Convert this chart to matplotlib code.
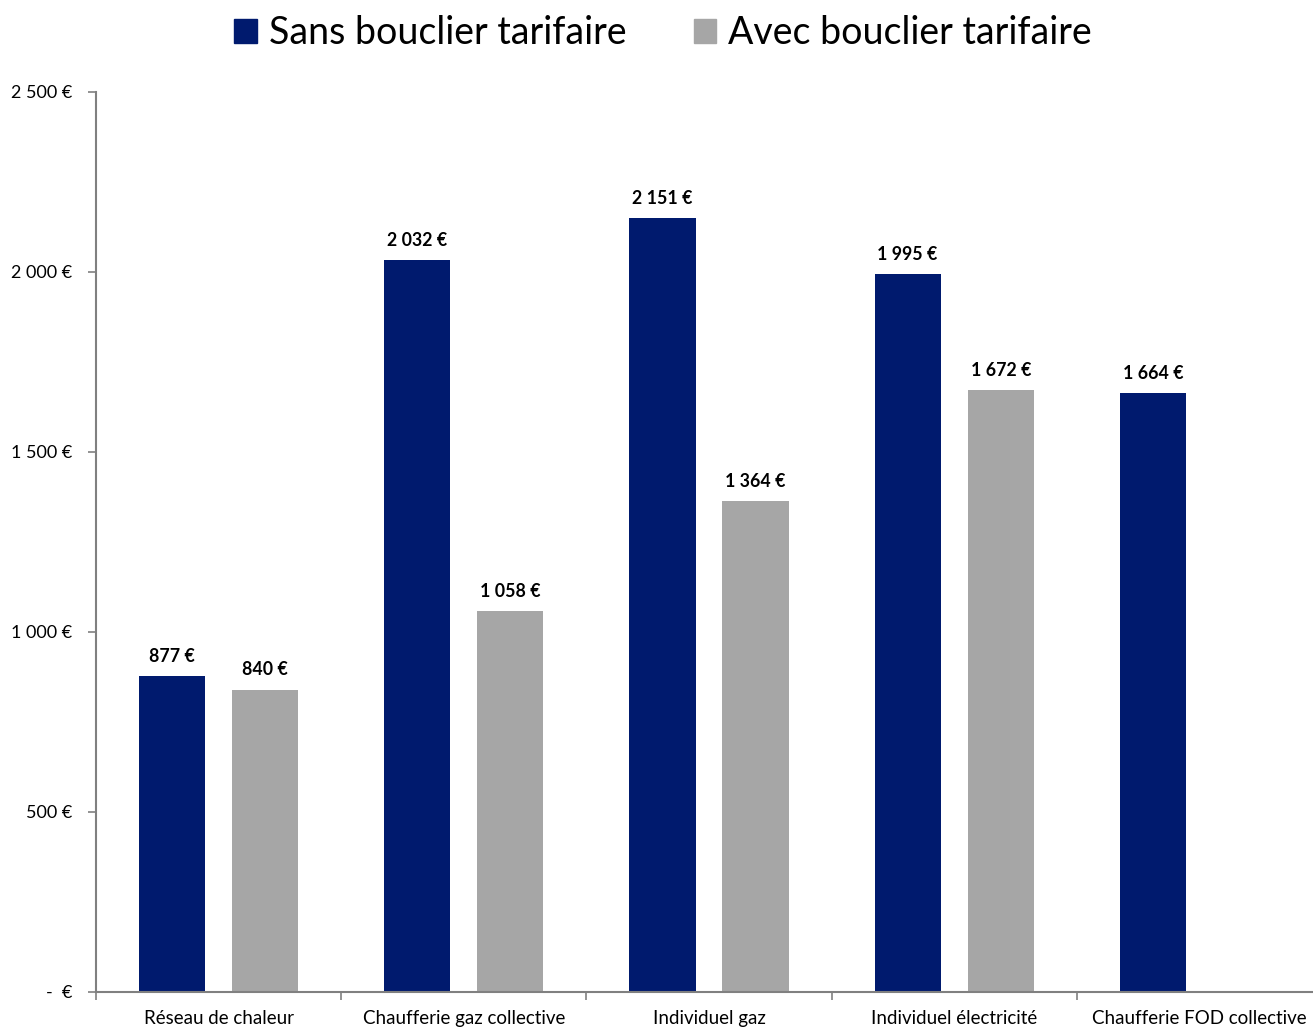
import matplotlib
matplotlib.use("Agg")
import matplotlib.pyplot as plt
from matplotlib.patches import Patch
import numpy as np

categories = ["Réseau de chaleur", "Chaufferie gaz collective", "Individuel gaz",
              "Individuel électricité", "Chaufferie FOD collective"]
sans_bouclier = [877, 2032, 2151, 1995, 1664]
avec_bouclier = [840, 1058, 1364, 1672, None]
series_names = ["Sans bouclier tarifaire", "Avec bouclier tarifaire"]
yticks = [0, 500, 1000, 1500, 2000, 2500]

BLUE = "#001A6E"
GREY = "#A6A6A6"

plt.rcParams['font.family'] = ['Lato', 'DejaVu Sans']

def eur(v):
    if v == 0:
        return "-  €"
    s = f"{int(round(v)):,}".replace(",", "\u00a0")
    return s + "\u00a0€"

fig = plt.figure(figsize=(13.13, 10.30), dpi=100)
ax = fig.add_axes([96/1313, 38/1030, (1322-96)/1313, 900/1030])

x = np.arange(len(categories))
w = 0.27
off = 0.19
for i in range(len(categories)):
    v = sans_bouclier[i]
    ax.bar(x[i]-off, v, w, color=BLUE)
    ax.annotate(eur(v), (x[i]-off, v), xytext=(0, 8), textcoords="offset points",
                ha="center", va="bottom", fontsize=12.8, fontweight="bold")
    v2 = avec_bouclier[i]
    if v2 is not None:
        ax.bar(x[i]+off, v2, w, color=GREY)
        ax.annotate(eur(v2), (x[i]+off, v2), xytext=(0, 8), textcoords="offset points",
                    ha="center", va="bottom", fontsize=12.8, fontweight="bold")

ax.set_xlim(-0.5, len(categories)-0.5)
ax.set_ylim(0, 2500)
ax.set_yticks(yticks)
ax.set_yticklabels([eur(t) for t in yticks], fontsize=13)
ax.tick_params(axis='y', direction='out', length=6, width=1.2, color="#808080", pad=11)

ax.set_xticks(x)
ax.set_xticklabels(categories, fontsize=13.5)
ax.set_xticks(np.arange(len(categories)+1)-0.5, minor=True)
ax.tick_params(axis='x', which='major', length=0, pad=13)
ax.tick_params(axis='x', which='minor', direction='out', length=6, width=1.2, color="#808080")

for s in ['top', 'right']:
    ax.spines[s].set_visible(False)
for s in ['left', 'bottom']:
    ax.spines[s].set_color("#808080")
    ax.spines[s].set_linewidth(1.5)

handles = [Patch(color=BLUE), Patch(color=GREY)]
fig.legend(handles, series_names, loc='upper center', bbox_to_anchor=(0.505, 1.018),
           ncol=2, frameon=False, fontsize=27, handlelength=0.6, handleheight=0.6,
           handletextpad=0.32, columnspacing=1.8)

fig.savefig("out.png", dpi=100)
